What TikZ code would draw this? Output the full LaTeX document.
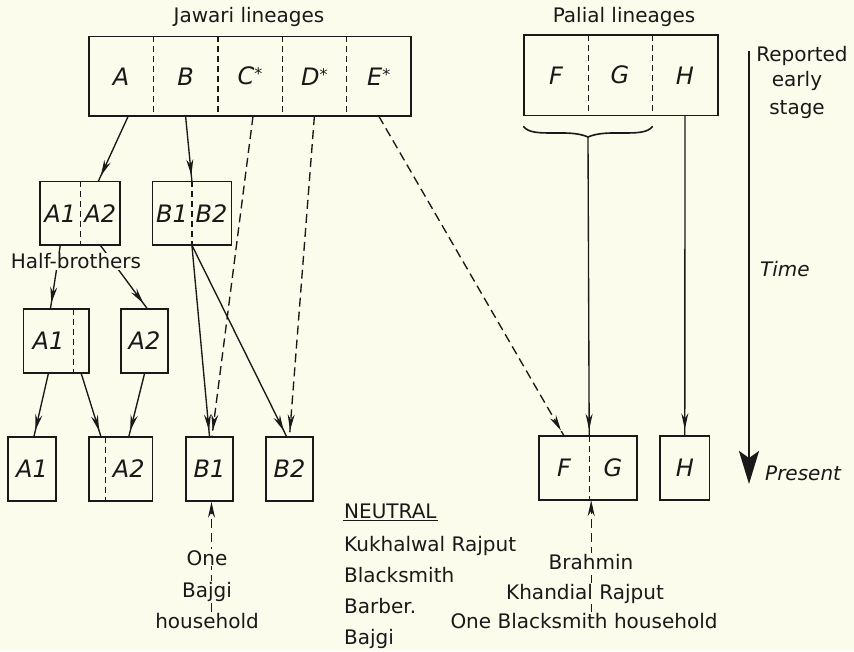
\documentclass[tikz,border=0pt]{standalone}
\usepackage{fontspec}
\setmainfont{DejaVu Sans}
\usetikzlibrary{arrows.meta,decorations.markings}
\definecolor{bg}{RGB}{252,252,237}
\definecolor{ink}{RGB}{25,25,25}
\pgfdeclarelayer{backl}
\pgfdeclarelayer{linel}
\pgfsetlayers{backl,linel,main}
\newcommand{\starred}[1]{#1{\fontsize{16}{16}\selectfont\raisebox{5pt}{*}}}
\begin{document}
\begin{tikzpicture}[x=1pt,y=-1pt,
  boxframe/.style={draw=ink,line width=1.4pt,rectangle,inner sep=0pt},
  cellx/.style={rectangle,inner sep=0pt,text=ink,font=\fontsize{24}{24}\selectfont\itshape},
  solidbox/.style={cellx,draw=ink,line width=1.4pt},
  divline/.style={draw=ink,line width=1.2pt,dash pattern=on 6pt off 4pt},
  conn/.style={draw=ink,line width=1.35pt},
  dconn/.style={conn,dash pattern=on 9pt off 5pt},
  tipmark/.style={decoration={markings,mark=at position -6pt with {\arrow{Stealth[length=16pt,width=7pt]}}},postaction={decorate}},
  uptip/.style={-{Stealth[length=16pt,width=7pt]}},
  txt/.style={text=ink,font=\fontsize{20}{21}\selectfont,inner sep=1pt},
  btxt/.style={txt,fill=bg},
  itxt/.style={text=ink,font=\fontsize{20}{21}\selectfont\itshape,inner sep=1pt}
]
\begin{pgfonlayer}{backl}
\fill[bg] (0,0) rectangle (854,651);
\end{pgfonlayer}
\useasboundingbox (0,0) rectangle (854,651);

% ---------- titles
\node[txt,anchor=base] (tJ) at (249,22) {Jawari lineages};
\node[txt,anchor=base] (tP) at (624,22) {Palial lineages};

% ---------- top Jawari box
\node[boxframe,minimum width=322pt,minimum height=79.5pt] (J) at (250,76.25) {};
\node[cellx,minimum width=64.4pt,minimum height=79.5pt] (cA) at (121.2,76.25) {A};
\node[cellx,minimum width=64.4pt,minimum height=79.5pt] (cB) at (185.6,76.25) {B};
\node[cellx,minimum width=64.4pt,minimum height=79.5pt] (cC) at (250,76.25) {\starred{C}};
\node[cellx,minimum width=64.4pt,minimum height=79.5pt] (cD) at (314.4,76.25) {\starred{D}};
\node[cellx,minimum width=64.4pt,minimum height=79.5pt] (cE) at (378.8,76.25) {\starred{E}};
\foreach \c in {cA,cB,cC,cD}{\draw[divline] (\c.north east) -- (\c.south east);}

% ---------- top Palial box
\node[boxframe,minimum width=194pt,minimum height=80.5pt] (P) at (621,75.25) {};
\node[cellx,minimum width=64pt,minimum height=80.5pt] (cF) at (556,75.25) {F};
\node[cellx,minimum width=64pt,minimum height=80.5pt] (cG) at (620,75.25) {G};
\node[cellx,minimum width=66pt,minimum height=80.5pt] (cH) at (685,75.25) {H};
\foreach \c in {cF,cG}{\draw[divline] (\c.north east) -- (\c.south east);}

% ---------- row 2
\node[boxframe,minimum width=80pt,minimum height=63.5pt] (A12) at (80,213.25) {};
\node[cellx,minimum width=40.6pt,minimum height=63.5pt] (a2L) at (60.3,213.25) {A1};
\node[cellx,minimum width=39.4pt,minimum height=63.5pt] (a2R) at (100.3,213.25) {A2};
\draw[divline] (a2L.north east) -- (a2L.south east);
\node[boxframe,minimum width=79pt,minimum height=63.5pt] (B12) at (192,213.25) {};
\node[cellx,minimum width=39.2pt,minimum height=63.5pt] (b2L) at (172.1,213.25) {B1};
\node[cellx,minimum width=39.8pt,minimum height=63.5pt] (b2R) at (211.6,213.25) {B2};
\draw[divline] (b2L.north east) -- (b2L.south east);

% ---------- row 3
\node[boxframe,minimum width=65.4pt,minimum height=64pt] (A1b) at (56.1,341) {};
\node[cellx,minimum width=50.1pt,minimum height=64pt] (a3L) at (48.45,341) {A1};
\node[cellx,minimum width=15.3pt,minimum height=64pt] (a3e) at (81.15,341) {};
\draw[divline] (a3L.north east) -- (a3L.south east);
\node[solidbox,minimum width=47pt,minimum height=64pt] (a3R) at (144.5,341) {A2};

% ---------- row 4
\node[solidbox,minimum width=48pt,minimum height=64pt] (a4L) at (32,469) {A1};
\node[boxframe,minimum width=63.5pt,minimum height=64pt] (A2b) at (120.75,469) {};
\node[cellx,minimum width=16pt,minimum height=64pt] (a4e) at (97,469) {};
\node[cellx,minimum width=47.5pt,minimum height=64pt] (a4R) at (128.75,469) {A2};
\draw[divline] (a4e.north east) -- (a4e.south east);
\node[solidbox,minimum width=47pt,minimum height=64pt] (b4L) at (209.5,469) {B1};
\node[solidbox,minimum width=47pt,minimum height=64pt] (b4R) at (289.5,469) {B2};
\node[boxframe,minimum width=98pt,minimum height=64pt] (FG) at (588,468) {};
\node[cellx,minimum width=50pt,minimum height=64pt] (fgF) at (564,468) {F};
\node[cellx,minimum width=48pt,minimum height=64pt] (fgG) at (613,468) {G};
\draw[divline] (fgF.north east) -- (fgF.south east);
\node[solidbox,minimum width=49.6pt,minimum height=64pt] (hh) at (684.8,468) {H};

% ---------- text
\node[btxt] (half) at (76,261.5) {Half-brothers};
\node[btxt,anchor=base] (one) at (207,565) {One};
\node[btxt,anchor=base] (bajgi) at (207,597) {Bajgi};
\node[btxt,anchor=base] (hhold) at (207,628) {household};
\node[btxt,anchor=base] (brah) at (591,569) {Brahmin};
\node[btxt,anchor=base] (khan) at (585,599) {Khandial Rajput};
\node[btxt,anchor=base] (oneb) at (584,628) {One Blacksmith household};
\node[txt,anchor=base west] (neu) at (343,518) {NEUTRAL};
\draw[ink,line width=1.2pt] ([yshift=-2.5pt]neu.base west) -- ([yshift=-2.5pt]neu.base east);
\node[txt,anchor=base west] (n1) at (343,551) {Kukhalwal Rajput};
\node[txt,anchor=base west] (n2) at (343,582) {Blacksmith};
\node[txt,anchor=base west] (n3) at (343,613) {Barber.};
\node[txt,anchor=base west] (n4) at (343,644) {Bajgi};
\node[txt,anchor=base] (rep1) at (802,61) {Reported};
\node[txt,anchor=base] (rep2) at (797,86) {early};
\node[txt,anchor=base] (rep3) at (797,114) {stage};
\node[itxt,anchor=base west] (time) at (759,276) {Time};
\node[itxt,anchor=base west] (pres) at (764,480) {Present};

% ---------- connectors
\coordinate (tTop) at (749,51);
\coordinate (tBot) at (749,484);
\coordinate (brL) at ([yshift=-11pt]cF.south west);
\coordinate (brR) at ([yshift=-11pt]cG.south east);
\coordinate (bTip) at (588,137);
\coordinate (b1Bot) at ([xshift=2pt]b4L.south);
\coordinate (fgBot) at ([xshift=2pt]fgF.south east);
\begin{pgfonlayer}{linel}
\draw[conn,tipmark] ([xshift=7pt]cA.south) -- ([xshift=-2pt]a2R.north);
\draw[conn,tipmark] (cB.south) -- (b2L.north east);
\draw[conn,tipmark] (a2L.south) -- ([xshift=2pt]a3L.north);
\draw[conn,tipmark] (a2R.south) -- ([xshift=2.5pt]a3R.north);
\draw[conn,tipmark] (a3L.south) -- ([xshift=2pt]a4L.north);
\draw[conn,tipmark] (a3e.south) -- ([xshift=4pt]a4e.north);
\draw[conn,tipmark] (a3R.south) -- (a4R.north);
\draw[conn,tipmark] (b2L.south east) -- (b4L.north);
\draw[conn,tipmark] (b2L.south east) -- ([xshift=-3pt]b4R.north);
\draw[dconn,tipmark] ([xshift=3pt]cC.south) -- ([xshift=2.5pt]b4L.north);
\draw[dconn,tipmark] (cD.south) -- (b4R.north);
\draw[dconn,tipmark] (cE.south) -- (fgF.north);
\draw[ink,line width=1.6pt,line cap=round]
  (brL) .. controls ([shift={(9,12)}]brL) and ([shift={(-20,-9)}]bTip) .. (bTip)
        .. controls ([shift={(20,-9)}]bTip) and ([shift={(-9,12)}]brR) .. (brR);
\draw[conn,tipmark] (bTip) -- (fgF.north east);
\draw[conn,tipmark] (cH.south) -- (hh.north);
\draw[dconn,uptip] (b1Bot |- hhold.north) -- (b1Bot);
\draw[dconn,uptip] (fgBot |- oneb.north) -- (fgBot);
\draw[ink,line width=2.8pt,-{Stealth[length=33pt,width=20pt,inset=7pt]}] (tTop) -- (tBot);
\end{pgfonlayer}
\end{tikzpicture}
\end{document}
